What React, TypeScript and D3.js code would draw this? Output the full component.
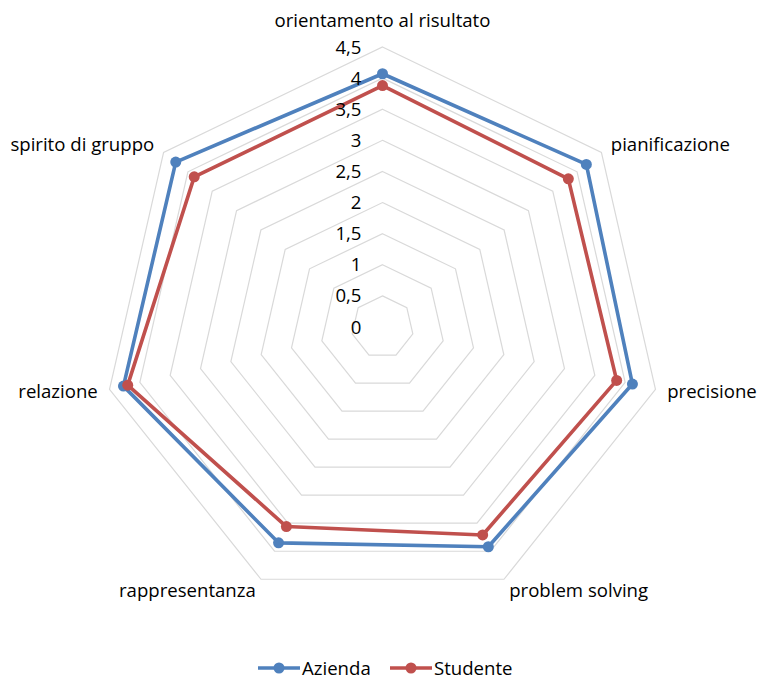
import * as d3 from 'd3'

// axes, clockwise from the top
const categories = [
  'orientamento al risultato',
  'pianificazione',
  'precisione',
  'problem solving',
  'rappresentanza',
  'relazione',
  'spirito di gruppo',
]
const azienda = [4.07, 4.19, 4.12, 3.92, 3.85, 4.27, 4.25]
const studente = [3.88, 3.82, 3.86, 3.71, 3.56, 4.2, 3.87]
const ticks = [0, 0.5, 1, 1.5, 2, 2.5, 3, 3.5, 4, 4.5]
const tickLabels = ['0', '0,5', '1', '1,5', '2', '2,5', '3', '3,5', '4', '4,5']

const series = [
  { name: 'Azienda', values: azienda, color: '#4F81BD' },
  { name: 'Studente', values: studente, color: '#C0504D' },
]

const W = 761
const H = 684
const cx = 382.5
const cy = 327
const R = 280
const FONT = '"Open Sans", sans-serif'
const FS = 18.6

export default function App() {
  const r = d3.scaleLinear().domain([0, 4.5]).range([0, R])
  const angle = d3
    .scaleLinear()
    .domain([0, categories.length])
    .range([0, 2 * Math.PI])

  const pt = (i: number, v: number): [number, number] => {
    const a = angle(i)
    return [cx + r(v) * Math.sin(a), cy - r(v) * Math.cos(a)]
  }

  const ring = (v: number) =>
    d3.line()(categories.map((_, i) => pt(i, v))) + 'Z'

  const lineGen = d3
    .lineRadial<number>()
    .angle((_, i) => angle(i))
    .radius((d) => r(d))
    .curve(d3.curveLinearClosed)

  return (
    <svg
      width={W}
      height={H}
      style={{ position: 'absolute', left: 0, top: 0, background: '#fff' }}
      fontFamily={FONT}
    >
      {/* grid */}
      <g fill="none" stroke="#D9D9D9" strokeWidth={1.2}>
        {ticks.slice(1).map((t) => (
          <path key={t} d={ring(t)} />
        ))}
      </g>

      {/* series */}
      {series.map((s) => (
        <g key={s.name}>
          <path
            d={lineGen(s.values) ?? ''}
            transform={`translate(${cx},${cy})`}
            fill="none"
            stroke={s.color}
            strokeWidth={3.6}
            strokeLinejoin="round"
          />
          {s.values.map((v, i) => {
            const [x, y] = pt(i, v)
            return <circle key={i} cx={x} cy={y} r={5.5} fill={s.color} />
          })}
        </g>
      ))}

      {/* tick labels */}
      <g fontSize={FS} fill="#000" textAnchor="end">
        {ticks.map((t, i) => (
          <text key={t} x={cx - 21} y={cy - r(t)} dy="0.35em">
            {tickLabels[i]}
          </text>
        ))}
      </g>

      {/* category labels */}
      <g fontSize={FS} fill="#000">
        {categories.map((c, i) => {
          const a = angle(i)
          const s = Math.sin(a)
          const co = Math.cos(a)
          const [x, y] = pt(i, 4.5 + 12 / (R / 4.5))
          const anchor = s > 0.1 ? 'start' : s < -0.1 ? 'end' : 'middle'
          return (
            <text
              key={c}
              x={x}
              y={co > 0.95 ? y - 15 : y}
              dy="0.35em"
              textAnchor={anchor}
            >
              {c}
            </text>
          )
        })}
      </g>

      {/* legend */}
      <g fontSize={FS} fill="#000">
        {series.map((s, i) => {
          const x0 = i === 0 ? 258 : 390
          const y0 = 668
          return (
            <g key={s.name}>
              <line x1={x0} x2={x0 + 42} y1={y0} y2={y0} stroke={s.color} strokeWidth={3.6} />
              <circle cx={x0 + 21} cy={y0} r={5.5} fill={s.color} />
              <text x={x0 + 44} y={y0} dy="0.35em">
                {s.name}
              </text>
            </g>
          )
        })}
      </g>
    </svg>
  )
}
